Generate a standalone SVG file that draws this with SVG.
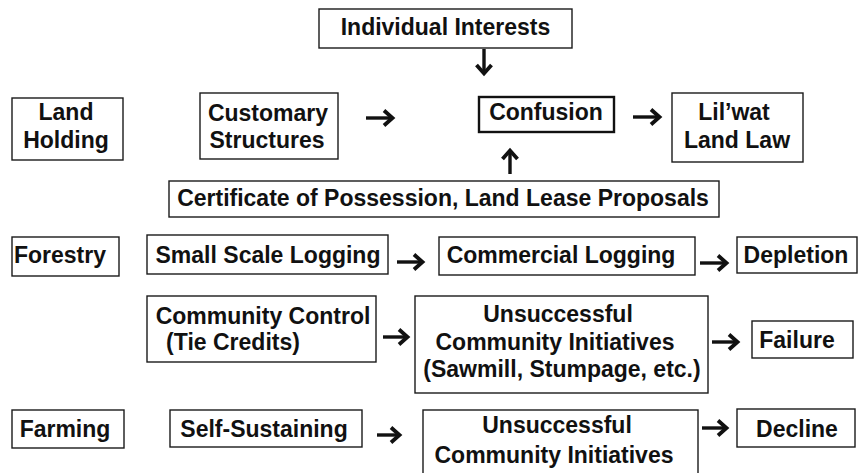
<svg xmlns="http://www.w3.org/2000/svg" width="860" height="473" viewBox="0 0 860 473">
<defs>
<style>
.b{fill:#fff;stroke:#1a1a1a;stroke-width:1.4}
.bt{fill:#fff;stroke:#111;stroke-width:2.4}
text{font-family:"Liberation Sans",Arial,sans-serif;font-size:23px;font-weight:bold;fill:#111;text-anchor:middle}
.c{stroke:#111;stroke-width:3.4;fill:none;marker-end:url(#ah)}
</style>
<marker id="ah" markerUnits="userSpaceOnUse" markerWidth="16" markerHeight="20" viewBox="0 0 16 20" refX="12" refY="10" orient="auto">
<path d="M3,2.5 L11.5,10 L3,17.5" fill="none" stroke="#111" stroke-width="3.8" stroke-linejoin="miter"/>
</marker>
</defs>
<rect width="860" height="473" fill="#fff"/>
<g id="individual-interests"><rect class="b" x="319" y="9" width="253" height="39"/><text x="445.5" y="35">Individual Interests</text></g>
<g id="land-holding"><rect class="b" x="12" y="98" width="111" height="62"/><text x="66" y="120">Land</text><text x="66" y="148">Holding</text></g>
<g id="customary-structures"><rect class="b" x="200" y="93" width="138" height="66"/><text x="268" y="121">Customary</text><text x="267" y="148">Structures</text></g>
<g id="confusion"><rect class="bt" x="479" y="97" width="135" height="35"/><text x="546" y="120">Confusion</text></g>
<g id="lilwat-land-law"><rect class="b" x="672" y="93" width="131" height="69"/><text x="734" y="120">Lil’wat</text><text x="737" y="148">Land Law</text></g>
<g id="certificate"><rect class="b" x="169" y="181" width="550" height="36"/><text x="443" y="206">Certificate of Possession, Land Lease Proposals</text></g>
<g id="forestry"><rect class="b" x="12" y="237" width="107" height="39"/><text x="60" y="263">Forestry</text></g>
<g id="small-scale-logging"><rect class="b" x="147" y="235" width="241" height="39"/><text x="268" y="263">Small Scale Logging</text></g>
<g id="commercial-logging"><rect class="b" x="439" y="237" width="256" height="38"/><text x="561" y="263">Commercial Logging</text></g>
<g id="depletion"><rect class="b" x="737" y="237" width="120" height="36"/><text x="796" y="263">Depletion</text></g>
<g id="community-control"><rect class="b" x="147" y="296" width="229" height="66"/><text x="263" y="324">Community Control</text><text x="233" y="350">(Tie Credits)</text></g>
<g id="unsuccessful-forestry"><rect class="b" x="415" y="296" width="293" height="97"/><text x="558" y="322">Unsuccessful</text><text x="555" y="350">Community Initiatives</text><text x="562" y="377">(Sawmill, Stumpage, etc.)</text></g>
<g id="failure"><rect class="b" x="752" y="321" width="101" height="37"/><text x="797" y="348">Failure</text></g>
<g id="farming"><rect class="b" x="12" y="410" width="112" height="38"/><text x="65" y="437">Farming</text></g>
<g id="self-sustaining"><rect class="b" x="170" y="410" width="192" height="37"/><text x="264" y="437">Self-Sustaining</text></g>
<g id="unsuccessful-farming"><rect class="b" x="423" y="410" width="275" height="70"/><text x="557" y="433">Unsuccessful</text><text x="554" y="463">Community Initiatives</text></g>
<g id="decline"><rect class="b" x="737" y="409" width="118" height="38"/><text x="797" y="437">Decline</text></g>
<g id="connectors">
<path class="c" d="M484,49 V74"/>
<path class="c" d="M510,174 V150"/>
<path class="c" d="M366,118 H393"/>
<path class="c" d="M633,117 H660"/>
<path class="c" d="M397,262 H423"/>
<path class="c" d="M700,263 H727"/>
<path class="c" d="M383,337 H408"/>
<path class="c" d="M712,342 H738"/>
<path class="c" d="M377,435 H400"/>
<path class="c" d="M702,428 H727"/>
</g>
</svg>
